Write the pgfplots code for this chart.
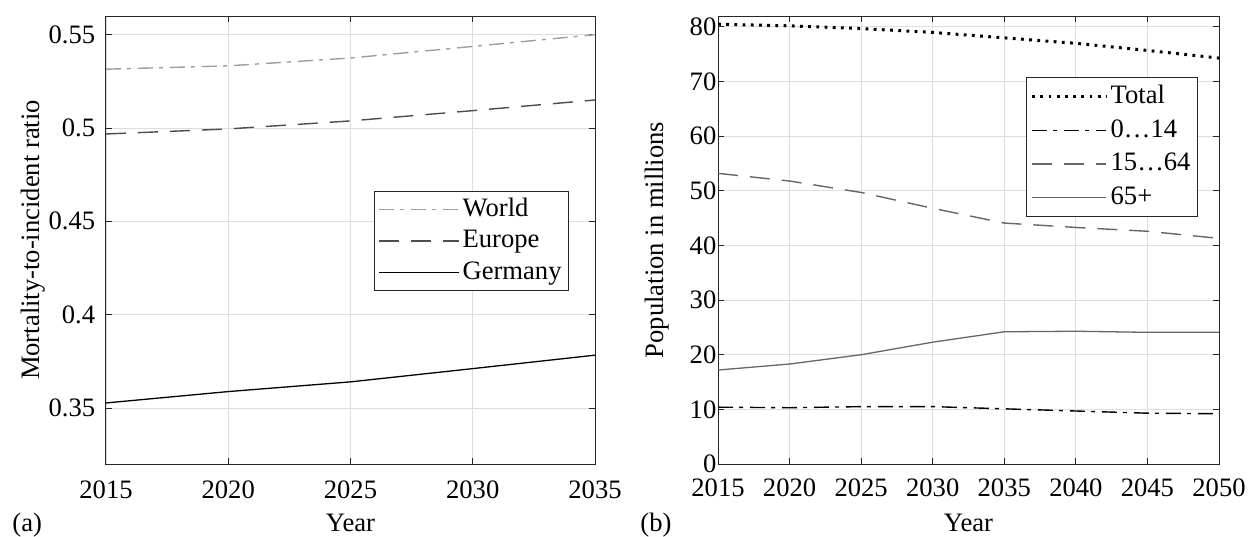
\documentclass[border=0pt]{standalone}
\usepackage{fontspec}
\setmainfont{Liberation Serif}
\usepackage{pgfplots}
\pgfplotsset{compat=1.18}

\definecolor{gridgray}{gray}{0.87}
\definecolor{axgray}{gray}{0.15}
\definecolor{lightline}{gray}{0.62}
\definecolor{midline}{gray}{0.3}
\definecolor{greyline}{gray}{0.4}

\newcommand{\figfont}{\fontsize{13.3}{15}\selectfont}

\pgfplotsset{
  matlabbox/.style={
    scale only axis,
    axis line style={axgray, line width=0.5pt},
    tick style={axgray, line width=0.5pt},
    tick align=inside,
    tick pos=both,
    major tick length=3pt,
    grid=major,
    major grid style={gridgray, line width=0.45pt},
    tick label style={font=\figfont},
    label style={font=\figfont},
    xticklabel={\pgfmathprintnumber{\tick}},
    yticklabel={\pgfmathprintnumber{\tick}},
    /pgf/number format/assume math mode=true,
    /pgf/number format/1000 sep={},
    legend cell align=left,
    legend style={draw=axgray, line width=0.5pt, fill=white, font=\figfont,
      inner xsep=2pt, inner ysep=1.2pt,
      nodes={inner sep=1.5pt, text height=9.6pt, text depth=3.1pt}},
  },
  dashdotline/.style={dash pattern=on 7.5pt off 3pt on 2pt off 3.5pt},
  dashline/.style={dash pattern=on 10pt off 6pt},
}

\begin{document}
\begin{tikzpicture}[x=1pt,y=1pt]
\path[use as bounding box] (0,0) rectangle (624,268);

% (a) mortality-to-incident ratio
\begin{axis}[matlabbox,
  at={(53pt,36pt)}, anchor=south west,
  width=244.5pt, height=224pt,
  xmin=2015, xmax=2035, ymin=0.32, ymax=0.56,
  xtick={2015,2020,...,2035},
  ytick={0.35,0.4,0.45,0.5,0.55},
  xticklabel style={yshift=-5pt},
  yticklabel style={xshift=-1.9pt},
  xlabel={Year},
  xlabel style={at={(axis description cs:0.5,0)}, anchor=base, yshift=-33.5pt},
  ylabel={Mortality-to-incident ratio},
  ylabel style={at={(axis description cs:-0.135,0.5)}, anchor=base},
  legend image code/.code={\draw[#1] (0pt,0pt) -- (40pt,0pt);},
  legend style={at={(axis description cs:0.947,0.609)}, anchor=north east},
]
\addplot[lightline, line width=0.7pt, dashdotline]
  coordinates {(2015,0.5315) (2020,0.5333) (2025,0.5375) (2030,0.5437) (2035,0.5500)};
\addlegendentry{World}
\addplot[midline, line width=0.7pt, dashline]
  coordinates {(2015,0.4968) (2020,0.4995) (2025,0.5038) (2030,0.5093) (2035,0.5150)};
\addlegendentry{Europe}
\addplot[black, line width=0.65pt]
  coordinates {(2015,0.3527) (2020,0.3588) (2025,0.3640) (2030,0.3711) (2035,0.3783)};
\addlegendentry{Germany}
\end{axis}

% (b) population by age group
\begin{axis}[matlabbox,
  at={(359pt,36pt)}, anchor=south west,
  width=250.5pt, height=224pt,
  xmin=2015, xmax=2050, ymin=0, ymax=82,
  xtick={2015,2020,...,2050},
  ytick={0,10,...,80},
  xticklabel style={yshift=-4pt},
  yticklabel style={xshift=2.7pt},
  xlabel={Year},
  xlabel style={at={(axis description cs:0.5,0)}, anchor=base, yshift=-33.5pt},
  ylabel={Population in millions},
  ylabel style={at={(axis description cs:-0.108,0.5)}, anchor=base},
  legend image code/.code={\draw[#1] (0pt,0pt) -- (37pt,0pt);},
  legend style={at={(axis description cs:0.958,0.864)}, anchor=north east,
    nodes={text height=10.3pt, text depth=3.5pt}},
]
\addplot[black, line width=1.5pt, line cap=butt, dash pattern=on 1.4pt off 2.7pt]
  coordinates {(2015,80.5) (2020,80.2) (2025,79.7) (2030,79.0) (2035,78.0) (2040,77.0) (2045,75.7) (2050,74.3)};
\addlegendentry{Total}
\addplot[black, line width=0.7pt, dashdotline]
  coordinates {(2015,10.4) (2020,10.3) (2025,10.5) (2030,10.5) (2035,10.1) (2040,9.7) (2045,9.3) (2050,9.2)};
\addlegendentry{0…14}
\addplot[greyline, line width=0.7pt, dashline]
  coordinates {(2015,53.2) (2020,51.8) (2025,49.7) (2030,46.8) (2035,44.1) (2040,43.3) (2045,42.6) (2050,41.3)};
\addlegendentry{15…64}
\addplot[greyline, line width=0.65pt]
  coordinates {(2015,17.2) (2020,18.3) (2025,20.0) (2030,22.3) (2035,24.2) (2040,24.3) (2045,24.1) (2050,24.1)};
\addlegendentry{65+}
\end{axis}

\node[font=\figfont, anchor=base west, inner sep=0pt] at (6pt,2.5pt) {(a)};
\node[font=\figfont, anchor=base west, inner sep=0pt] at (320pt,2.5pt) {(b)};
\end{tikzpicture}
\end{document}
